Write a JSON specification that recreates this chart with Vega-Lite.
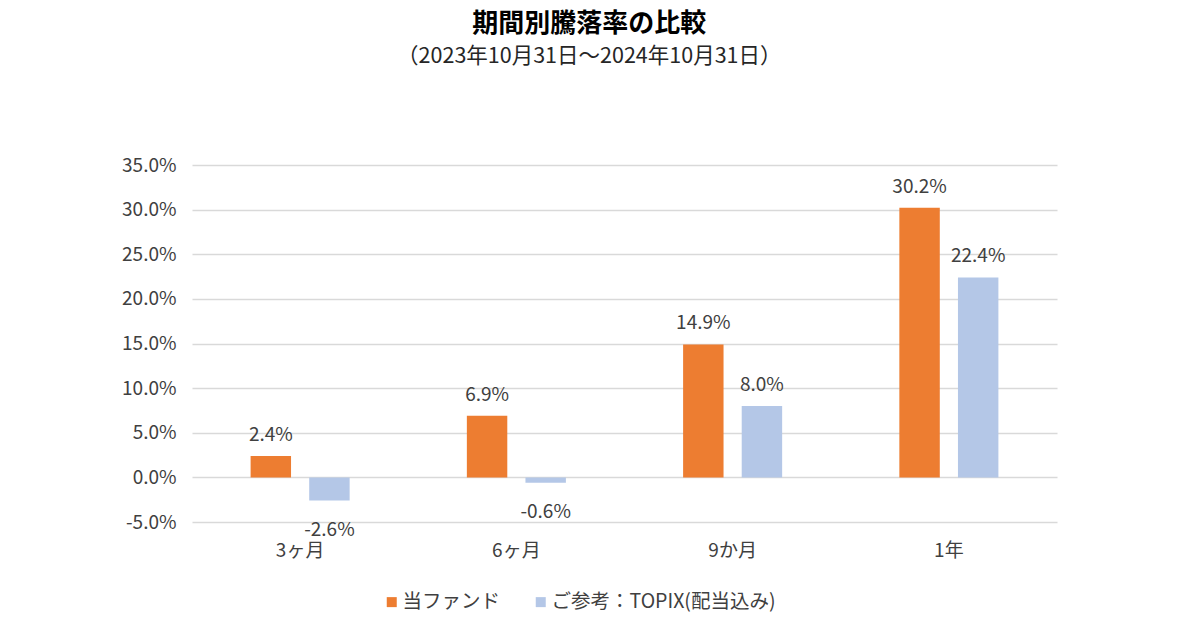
{
  "$schema": "https://vega.github.io/schema/vega-lite/v6.json",
  "width": 865,
  "height": 357,
  "autosize": {"type": "none"},
  "padding": {"left": 192, "top": 165, "right": 128, "bottom": 115},
  "background": "white",
  "config": {"view": {"stroke": null}},
  "title": {
    "text": "期間別騰落率の比較",
    "subtitle": "（2023年10月31日～2024年10月31日）",
    "anchor": "middle",
    "frame": "bounds",
    "dx": 0,
    "offset": 89,
    "font": "Noto Sans CJK JP",
    "fontSize": 26,
    "fontWeight": "bold",
    "color": "#000000",
    "subtitleFont": "Noto Sans CJK JP",
    "subtitleFontSize": 21.5,
    "subtitleColor": "#262626",
    "subtitlePadding": 9
  },
  "data": {
    "values": [
      {"period": "3ヶ月", "series": "当ファンド", "value": 2.4},
      {"period": "3ヶ月", "series": "ご参考：TOPIX(配当込み)", "value": -2.6},
      {"period": "6ヶ月", "series": "当ファンド", "value": 6.9},
      {"period": "6ヶ月", "series": "ご参考：TOPIX(配当込み)", "value": -0.6},
      {"period": "9か月", "series": "当ファンド", "value": 14.9},
      {"period": "9か月", "series": "ご参考：TOPIX(配当込み)", "value": 8.0},
      {"period": "1年", "series": "当ファンド", "value": 30.2},
      {"period": "1年", "series": "ご参考：TOPIX(配当込み)", "value": 22.4}
    ]
  },
  "transform": [
    {"calculate": "replace(format(datum.value, '.1f'), '\u2212', '-') + '%'", "as": "label"}
  ],
  "encoding": {
    "x": {
      "field": "period",
      "type": "nominal",
      "sort": ["3ヶ月", "6ヶ月", "9か月", "1年"],
      "scale": {"paddingInner": 0, "paddingOuter": 0},
      "axis": {
        "title": null,
        "labelAngle": 0,
        "domain": false,
        "ticks": false,
        "labelPadding": 19,
        "labelFont": "Noto Sans CJK JP",
        "labelFontSize": 19,
        "labelColor": "#404040"
      }
    },
    "xOffset": {
      "field": "series",
      "type": "nominal",
      "sort": ["当ファンド", "ご参考：TOPIX(配当込み)"],
      "scale": {"paddingInner": 0.31, "paddingOuter": 1.02}
    },
    "y": {
      "field": "value",
      "type": "quantitative",
      "scale": {"domain": [-5, 35], "nice": false, "zero": false},
      "axis": {
        "title": null,
        "values": [-5, 0, 5, 10, 15, 20, 25, 30, 35],
        "labelExpr": "replace(format(datum.value, '.1f'), '\u2212', '-') + '%'",
        "domain": false,
        "ticks": false,
        "labelPadding": 16,
        "labelFont": "Noto Sans CJK JP",
        "labelFontSize": 19,
        "labelColor": "#404040",
        "grid": true,
        "gridColor": "#d9d9d9",
        "gridWidth": 1.5
      }
    }
  },
  "layer": [
    {
      "mark": {"type": "bar"},
      "encoding": {
        "color": {
          "field": "series",
          "type": "nominal",
          "scale": {
            "domain": ["当ファンド", "ご参考：TOPIX(配当込み)"],
            "range": ["#ED7D31", "#B4C7E7"]
          },
          "legend": {
            "title": null,
            "orient": "none",
            "direction": "horizontal",
            "legendX": 190,
            "legendY": 427,
            "symbolType": "square",
            "symbolSize": 100,
            "symbolStrokeWidth": 0,
            "labelFont": "Noto Sans CJK JP",
            "labelFontSize": 19.5,
            "labelColor": "#404040",
            "labelLimit": 400,
            "columnPadding": 30,
            "labelOffset": 1
          }
        }
      }
    },
    {
      "transform": [{"filter": "datum.value >= 0"}],
      "mark": {"type": "text", "baseline": "bottom", "dy": -11, "font": "Noto Sans CJK JP", "fontSize": 19, "color": "#404040"},
      "encoding": {
        "text": {"field": "label", "type": "nominal"},
        "y": {"field": "value", "type": "quantitative"}
      }
    },
    {
      "transform": [{"filter": "datum.value < 0"}],
      "mark": {"type": "text", "baseline": "top", "dy": 20, "font": "Noto Sans CJK JP", "fontSize": 19, "color": "#404040"},
      "encoding": {
        "text": {"field": "label", "type": "nominal"},
        "y": {"field": "value", "type": "quantitative"}
      }
    }
  ]
}
